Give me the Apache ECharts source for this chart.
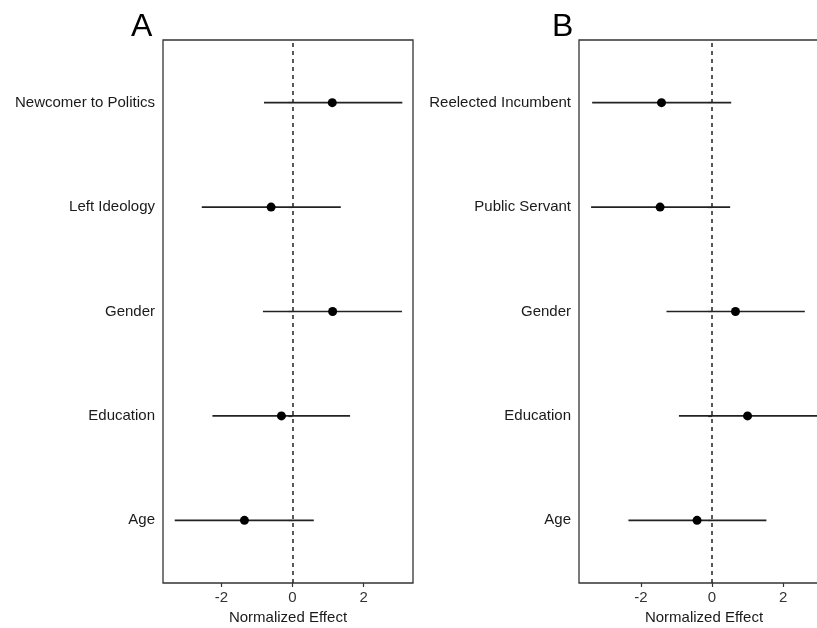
<!DOCTYPE html>
<html>
<head>
<meta charset="utf-8">
<script src="https://cdn.jsdelivr.net/npm/echarts@6/dist/echarts.min.js"></script>
<style>html,body{margin:0;padding:0;background:#fff;}#c{width:817px;height:628px;}</style>
</head>
<body>
<div id="c"></div>
<script>
// Panel A (bottom to top)
var catsA = ['Age', 'Education', 'Gender', 'Left Ideology', 'Newcomer to Politics'];
var estA  = [-1.35, -0.31, 1.13, -0.60, 1.12];
var loA   = [-3.31, -2.25, -0.83, -2.55, -0.80];
var hiA   = [0.60, 1.62, 3.08, 1.36, 3.09];
// Panel B (bottom to top)
var catsB = ['Age', 'Education', 'Gender', 'Public Servant', 'Reelected Incumbent'];
var estB  = [-0.42, 1.00, 0.66, -1.46, -1.42];
var loB   = [-2.35, -0.93, -1.28, -3.40, -3.37];
var hiB   = [1.53, 2.96, 2.61, 0.51, 0.54];
var xTicks = [-2, 0, 2];
var yTicks = [1, 2, 3, 4, 5];

var FONT = 'Liberation Sans, Arial, sans-serif';
var chart = echarts.init(document.getElementById('c'), null, {renderer: 'canvas'});

function bars(est, lo, hi) {
  return est.map(function (e, i) { return [i + 1, lo[i], hi[i]]; });
}
function pts(est) {
  return est.map(function (e, i) { return [e, i + 1]; });
}
function xAxisCfg(idx, min, max) {
  return {
    type: 'value', gridIndex: idx, min: min, max: max,
    name: 'Normalized Effect', nameLocation: 'middle', nameGap: 25,
    nameTextStyle: {fontFamily: FONT, fontSize: 15, color: '#1a1a1a'},
    axisLine: {show: false},
    axisTick: {show: true, length: 4, customValues: xTicks, lineStyle: {color: '#333', width: 1.2}},
    axisLabel: {customValues: xTicks, margin: 7, fontFamily: FONT, fontSize: 15, color: '#333',
      formatter: function (v) { return v < 0 ? '-' + Math.abs(v) : String(v); }},
    splitLine: {show: false}
  };
}
function yAxisCfg(idx, cats) {
  return {
    type: 'value', gridIndex: idx, min: 0.4, max: 5.6,
    axisLine: {show: false},
    axisTick: {show: true, length: 4, customValues: yTicks, lineStyle: {color: '#333', width: 1.2}},
    axisLabel: {customValues: yTicks, margin: 8, fontFamily: FONT, fontSize: 15, color: '#1a1a1a',
      formatter: function (v) { return cats[Math.round(v) - 1] || ''; }},
    splitLine: {show: false}
  };
}
function errSeries(idx, data) {
  return {
    type: 'custom', xAxisIndex: idx, yAxisIndex: idx, data: data,
    encode: {x: [1, 2], y: 0},
    renderItem: function (params, api) {
      var y = api.value(0);
      var p1 = api.coord([api.value(1), y]);
      var p2 = api.coord([api.value(2), y]);
      return {type: 'line', shape: {x1: p1[0], y1: p1[1], x2: p2[0], y2: p2[1]},
        style: {stroke: '#222', lineWidth: 1.6}};
    },
    z: 2, silent: true
  };
}
function ptSeries(idx, data) {
  return {
    type: 'scatter', xAxisIndex: idx, yAxisIndex: idx, data: data,
    symbol: 'circle', symbolSize: 9, itemStyle: {color: '#000', opacity: 1}, z: 3, silent: true,
    markLine: {
      silent: true, symbol: 'none', label: {show: false},
      lineStyle: {type: [4, 4], color: '#222', width: 1.5},
      data: [{xAxis: 0}]
    }
  };
}

chart.setOption({
  animation: false,
  backgroundColor: '#fff',
  title: [
    {text: 'A', left: 126, top: 6, textStyle: {fontFamily: FONT, fontSize: 32, fontWeight: 'normal', color: '#000'}},
    {text: 'B', left: 547, top: 6, textStyle: {fontFamily: FONT, fontSize: 32, fontWeight: 'normal', color: '#000'}}
  ],
  grid: [
    {left: 163, top: 40, width: 250, height: 543, show: true, borderColor: '#333', borderWidth: 1.3, backgroundColor: 'transparent', outerBoundsMode: 'none'},
    {left: 579, top: 40, width: 250, height: 543, show: true, borderColor: '#333', borderWidth: 1.3, backgroundColor: 'transparent', outerBoundsMode: 'none'}
  ],
  xAxis: [xAxisCfg(0, -3.64, 3.39), xAxisCfg(1, -3.74, 3.29)],
  yAxis: [yAxisCfg(0, catsA), yAxisCfg(1, catsB)],
  series: [
    errSeries(0, bars(estA, loA, hiA)),
    ptSeries(0, pts(estA)),
    errSeries(1, bars(estB, loB, hiB)),
    ptSeries(1, pts(estB))
  ]
});
</script>
</body>
</html>
